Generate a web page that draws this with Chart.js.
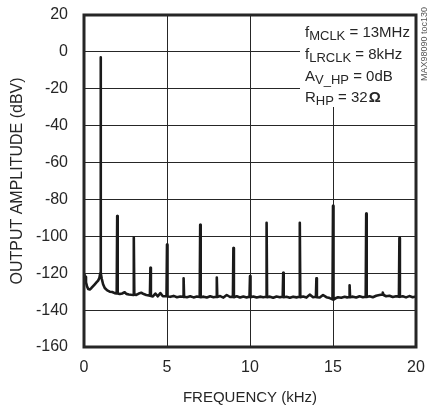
<!DOCTYPE html>
<html>
<head>
<meta charset="utf-8">
<script src="https://cdn.jsdelivr.net/npm/chart.js@4/dist/chart.umd.min.js"></script>
<style>
  html, body { margin: 0; padding: 0; background: #fff; }
  #wrap { width: 430px; height: 407px; position: relative; }
</style>
</head>
<body>
<div id="wrap"><canvas id="fft"></canvas></div>
<script>
// spectrum (kHz, dBV)
var freqKHz = [
  0.00, 0.04, 0.08, 0.12, 0.18, 0.25, 0.35, 0.45, 0.55, 0.65, 0.75, 0.85, 0.93, 0.98,
  1.00, 1.02, 1.07, 1.15, 1.25, 1.40, 1.55, 1.70, 1.85, 1.97,
  2.00, 2.03, 2.15, 2.30, 2.45, 2.55, 2.70, 2.85, 2.97,
  3.00, 3.03, 3.15, 3.30, 3.45, 3.60, 3.75, 3.90, 3.97,
  4.00, 4.03, 4.15, 4.30, 4.45, 4.60, 4.75, 4.97,
  5.00, 5.03, 5.20, 5.40, 5.60, 5.80, 5.97,
  6.00, 6.03, 6.20, 6.40, 6.60, 6.80, 6.97,
  7.00, 7.03, 7.20, 7.40, 7.60, 7.80, 7.97,
  8.00, 8.03, 8.20, 8.40, 8.60, 8.80, 8.97,
  9.00, 9.03, 9.20, 9.40, 9.60, 9.80, 9.97,
  10.00, 10.03, 10.20, 10.40, 10.60, 10.80, 10.97,
  11.00, 11.03, 11.20, 11.40, 11.60, 11.80, 11.97,
  12.00, 12.03, 12.20, 12.40, 12.60, 12.80, 12.97,
  13.00, 13.03, 13.20, 13.40, 13.60, 13.80, 13.97,
  14.00, 14.03, 14.20, 14.40, 14.60, 14.80, 14.97,
  15.00, 15.03, 15.15, 15.30, 15.50, 15.70, 15.85, 15.97,
  16.00, 16.03, 16.20, 16.40, 16.60, 16.80, 16.97,
  17.00, 17.03, 17.20, 17.40, 17.60, 17.80, 17.97,
  18.00, 18.05, 18.20, 18.40, 18.60, 18.80, 18.97,
  19.00, 19.03, 19.20, 19.40, 19.60, 19.80, 20.00
];
var levelDBV = [
  -121, -123.5, -122, -125, -127, -128.5, -128.8, -128, -127, -126, -125, -124, -122.5, -120,
  -3, -120, -123, -126, -128, -129.3, -130, -130.2, -130.8, -131,
  -89, -131, -131.3, -131, -130.3, -131.2, -131.5, -131.7, -131.8,
  -100.7, -131.5, -131.8, -131, -130.6, -131.3, -131.8, -132, -132.2,
  -117, -132.3, -132.6, -131, -132.5, -130.8, -132.5, -132.4,
  -104.5, -132.6, -132.8, -132.3, -133, -132.6, -132.8,
  -122.7, -132.8, -133, -132.5, -133.1, -132.6, -132.9,
  -93.7, -133, -132.7, -133.2, -132.5, -133, -132.8,
  -122.3, -132.9, -132.4, -133.2, -131.8, -132.9, -132.7,
  -106.3, -133, -132.5, -133.2, -132.6, -133.1, -132.8,
  -121.6, -133, -132.6, -133.2, -132.7, -133, -132.8,
  -92.6, -133, -132.7, -133.3, -132.6, -133, -132.7,
  -119.8, -133, -132.8, -133.3, -132.7, -133.1, -132.8,
  -92.7, -133, -132.6, -133.2, -131.6, -133, -132.8,
  -122.7, -133, -133.2, -131.8, -133, -133.5, -134.2,
  -83.5, -134.3, -133.6, -133, -133.3, -132.8, -133.1, -132.9,
  -126.5, -133, -132.7, -133.2, -132.5, -133, -132.8,
  -87.7, -132.9, -132.5, -133, -132.2, -131.8, -131.5,
  -130.5, -131.8, -132.5, -132.2, -132.9, -132.5, -132.7,
  -100.9, -132.8, -132.5, -133.1, -132.4, -133, -132.6
];
var xTicks = [0, 5, 10, 15, 20];
var yTicks = [20, 0, -20, -40, -60, -80, -100, -120, -140, -160];
var notes = [
  ["f", "MCLK", " = 13MHz"],
  ["f", "LRCLK", " = 8kHz"],
  ["A", "V_HP", " = 0dB"],
  ["R", "HP", " = 32", "Ω"]
];

var FONT = "'Liberation Sans', Arial, sans-serif";
var INK = "#262626";

var points = [];
for (var i = 0; i < freqKHz.length; i++) {
  points.push({ x: freqKHz[i], y: levelDBV[i] });
}

var framePlugin = {
  id: "frame",
  beforeDatasetsDraw: function(chart) {
    var ctx = chart.ctx;
    var a = chart.chartArea;
    // white box behind the conditions text
    ctx.save();
    ctx.fillStyle = "#fff";
    ctx.fillRect(300, a.top, a.right - 300, 107 - a.top);
    ctx.fillStyle = INK;
    ctx.textBaseline = "alphabetic";
    var base = [37, 59, 81, 102];
    for (var n = 0; n < notes.length; n++) {
      var x = 305;
      var row = notes[n];
      ctx.font = "15px " + FONT;
      ctx.fillText(row[0], x, base[n]);
      x += ctx.measureText(row[0]).width;
      ctx.font = "13px " + FONT;
      ctx.fillText(row[1], x, base[n] + 3);
      x += ctx.measureText(row[1]).width;
      ctx.font = "15px " + FONT;
      ctx.fillText(row[2], x, base[n]);
      x += ctx.measureText(row[2]).width;
      if (row[3]) {
        ctx.font = "bold 15px " + FONT;
        ctx.fillText(row[3], x + 1, base[n]);
      }
    }
    ctx.restore();
  },
  afterDatasetsDraw: function(chart) {
    var ctx = chart.ctx;
    var a = chart.chartArea;
    ctx.save();
    ctx.strokeStyle = INK;
    ctx.lineWidth = 3;
    ctx.strokeRect(a.left, a.top, a.right - a.left, a.bottom - a.top);
    // part number on the right edge
    ctx.translate(425, 7);
    ctx.rotate(-Math.PI / 2);
    ctx.font = "9px " + FONT;
    ctx.fillStyle = "#555";
    ctx.textAlign = "right";
    ctx.textBaseline = "middle";
    ctx.fillText("MAX98090 toc130", 0, 0);
    ctx.restore();
  }
};

new Chart(document.getElementById("fft"), {
  type: "scatter",
  data: {
    datasets: [{
      data: points,
      showLine: true,
      borderColor: "#1a1a1a",
      borderWidth: 2.6,
      borderJoinStyle: "round",
      pointRadius: 0,
      tension: 0
    }]
  },
  options: {
    responsive: true,
    maintainAspectRatio: false,
    animation: false,
    layout: { padding: { top: 15, right: 14, left: 0, bottom: 0 } },
    plugins: { legend: { display: false }, tooltip: { enabled: false } },
    scales: {
      x: {
        type: "linear",
        min: 0, max: 20,
        afterFit: function(s) { s.height = 60; s.paddingLeft = 0; s.paddingRight = 0; },
        afterBuildTicks: function(s) { s.ticks = xTicks.map(function(v) { return { value: v }; }); },
        grid: { color: INK, lineWidth: 1, drawTicks: false },
        border: { display: false },
        ticks: { color: INK, padding: 11, font: { family: FONT, size: 16 } },
        title: {
          display: true, text: "FREQUENCY (kHz)", color: INK,
          font: { family: FONT, size: 15 }, padding: { top: 0, bottom: 0 }
        }
      },
      y: {
        type: "linear",
        min: -160, max: 20,
        afterFit: function(s) { s.width = 84; s.paddingTop = 0; s.paddingBottom = 0; },
        afterBuildTicks: function(s) { s.ticks = yTicks.map(function(v) { return { value: v }; }); },
        grid: { color: INK, lineWidth: 1, drawTicks: false },
        border: { display: false },
        ticks: { color: INK, padding: 16, font: { family: FONT, size: 16 } },
        title: {
          display: true, text: "OUTPUT AMPLITUDE (dBV)", color: INK,
          font: { family: FONT, size: 16 }, padding: { top: 8, bottom: 0 }
        }
      }
    }
  },
  plugins: [framePlugin]
});
</script>
</body>
</html>
